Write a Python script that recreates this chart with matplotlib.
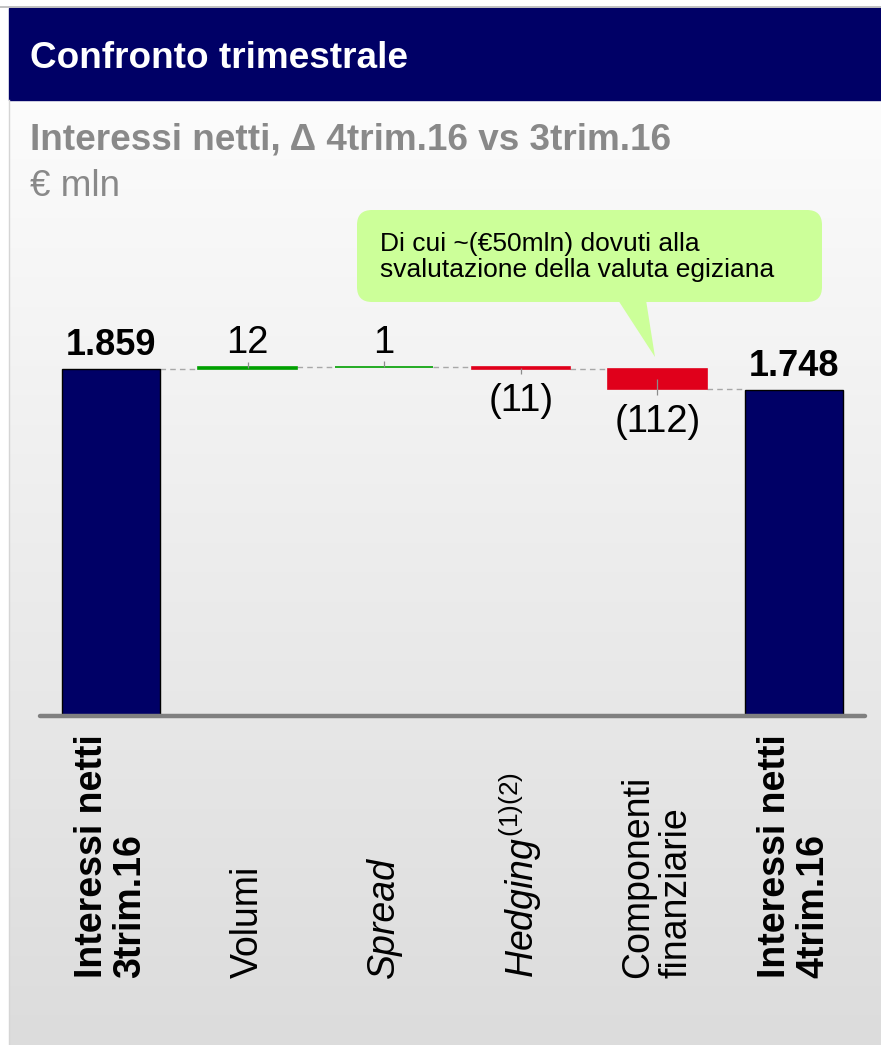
import matplotlib
matplotlib.use('Agg')
import matplotlib.pyplot as plt
import matplotlib.transforms as mtransforms
from matplotlib.patches import FancyBboxPatch, Polygon, Rectangle
from matplotlib.lines import Line2D
import numpy as np

plt.rcParams['font.family'] = ['Liberation Sans', 'DejaVu Sans']
plt.rcParams['mathtext.fontset'] = 'custom'
plt.rcParams['mathtext.rm'] = 'Liberation Sans'
plt.rcParams['mathtext.it'] = 'Liberation Sans:italic'

# data
categories = ['Interessi netti\n3trim.16', 'Volumi', 'Spread',
              r'$\mathit{Hedging}^{(1)(2)}$', 'Componenti\nfinanziarie',
              'Interessi netti\n4trim.16']
values = [1859, 12, 1, -11, -112, 1748]
value_labels = ['1.859', '12', '1', '(11)', '(112)', '1.748']
label_weights = ['bold', 'normal', 'normal', 'normal', 'normal', 'bold']
label_styles = ['normal', 'normal', 'italic', 'normal', 'normal', 'normal']

title = 'Confronto trimestrale'
subtitle = 'Interessi netti, \u0394 4trim.16 vs 3trim.16'
unit = '\u20ac mln'
note = 'Di cui ~(\u20ac50mln) dovuti alla\nsvalutazione della valuta egiziana'

navy = '#000066'
green = '#00a000'
red = '#e0001b'
grey_txt = '#898989'

W, H = 881, 1045
fig = plt.figure(figsize=(W / 100, H / 100), dpi=100)


def fx(x):
    return x / W


def fy(y):
    return 1 - y / H


def pin(x, y):
    # pixel (top-left origin) -> inches for dpi_scale_trans
    return (x / 100, (H - y) / 100)


# background gradient under header
bg = fig.add_axes([fx(9), 0, 1 - fx(9), fy(100)])
g = np.linspace(252, 220, 256).reshape(-1, 1) / 255
img = np.dstack([g, g, g])
bg.imshow(img, aspect='auto', extent=[0, 1, 0, 1])
bg.axis('off')

# header band and frame lines
fig.add_artist(Rectangle((fx(9), fy(100)), 1 - fx(9), fy(8) - fy(100),
                         transform=fig.transFigure, color=navy, zorder=1))
fig.add_artist(Line2D([0, 1], [fy(7), fy(7)], color='#b8b8b8', lw=1.2,
                      transform=fig.transFigure))
fig.add_artist(Line2D([fx(8.5), fx(8.5)], [0, fy(100)], color='#d5d5d5', lw=1,
                      transform=fig.transFigure))

fig.text(fx(30), fy(58), title, color='white', fontsize=26.6, fontweight='bold',
         va='center', ha='left')
fig.text(fx(30), fy(140), subtitle, color=grey_txt, fontsize=26.6,
         fontweight='bold', va='center', ha='left')
fig.text(fx(30), fy(186), unit, color=grey_txt, fontsize=26.6,
         va='center', ha='left')

# main waterfall
ax = fig.add_axes([fx(40), fy(716), fx(865) - fx(40), fy(200) - fy(716)])
ax.set_facecolor('none')
ax.set_xlim(-0.52, 5.52)
ax.set_ylim(0, 2764)
ax.axis('off')

n = len(values)
x = np.arange(n)
bw = 0.72
running = 0
levels = []
for i, v in enumerate(values):
    if i == 0 or i == n - 1:
        bottom, height, col = 0, v, navy
        ax.bar(x[i], height, bottom=bottom, width=bw, color=col,
               edgecolor='black', lw=1, zorder=3)
        running = v
        top_edge, low_edge = v, 0
    else:
        bottom = running if v >= 0 else running + v
        height = abs(v)
        col = green if v >= 0 else red
        ax.bar(x[i], height, bottom=bottom, width=bw, color=col,
               edgecolor=col, lw=1.2, zorder=3)
        running += v
        top_edge, low_edge = bottom + height, bottom
    levels.append(running)

    tick_len = 27
    if v >= 0:
        if col == navy:
            ax.annotate(value_labels[i], xy=(x[i], top_edge), xytext=(0, 4),
                        textcoords='offset points', ha='center', va='bottom',
                        fontsize=26, fontweight='bold')
        else:
            ax.annotate(value_labels[i], xy=(x[i], top_edge), xytext=(0, 4),
                        textcoords='offset points', ha='center', va='bottom',
                        fontsize=27.5)
            ax.vlines(x[i], bottom + height / 2, top_edge + tick_len,
                      color='#8c8c8c', lw=0.9, zorder=4)
    else:
        ax.annotate(value_labels[i], xy=(x[i], low_edge), xytext=(0, -10.5),
                    textcoords='offset points', ha='center', va='top',
                    fontsize=27.5)
        ax.vlines(x[i], bottom + height / 2, low_edge - tick_len,
                  color='#8c8c8c', lw=0.9, zorder=4)

# dashed connectors
for i in range(n - 1):
    ax.hlines(levels[i], x[i] + bw / 2, x[i + 1] - bw / 2, color='#a8a8a8',
              lw=1, linestyles=(0, (4, 3)), zorder=2)

# baseline
ax.axhline(0, color='#808080', lw=3.2, solid_capstyle='round',
           clip_on=False, zorder=5)

# category labels, rotated, aligned at the bottom
trans = mtransforms.blended_transform_factory(ax.transData, fig.transFigure)
for i, lab in enumerate(categories):
    ax.text(x[i], fy(978), lab, transform=trans, rotation=90, ha='center',
            va='bottom', multialignment='left', fontsize=27,
            fontweight=label_weights[i], fontstyle=label_styles[i],
            linespacing=1.1)

# callout
box = FancyBboxPatch(pin(357, 302), 465 / 100, 92 / 100,
                     boxstyle='round,pad=0,rounding_size=0.15',
                     transform=fig.dpi_scale_trans, fc='#ccff99', ec='none',
                     zorder=6)
fig.add_artist(box)
tail = Polygon([pin(618, 300), pin(646, 300), pin(655, 357)], closed=True,
               transform=fig.dpi_scale_trans, fc='#ccff99', ec='none', zorder=6)
fig.add_artist(tail)
fig.text(fx(380), fy(257), note, fontsize=19, va='center', ha='left',
         linespacing=1.1, zorder=7)

fig.savefig('out.png', dpi=100)
